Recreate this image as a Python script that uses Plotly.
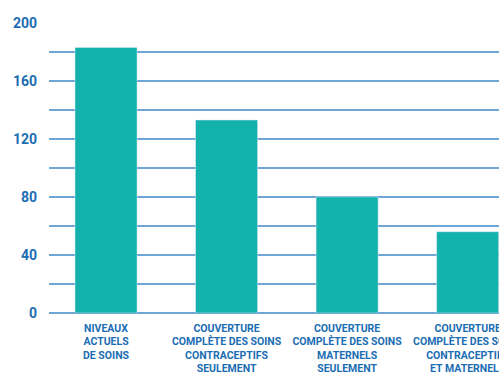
import plotly.graph_objects as go

categories = [
    "NIVEAUX<br>ACTUELS<br>DE SOINS",
    "COUVERTURE<br>COMPLÈTE DES SOINS<br>CONTRACEPTIFS<br>SEULEMENT",
    "COUVERTURE<br>COMPLÈTE DES SOINS<br>MATERNELS<br>SEULEMENT",
    "COUVERTURE<br>COMPLÈTE DES SOINS<br>CONTRACEPTIFS<br>ET MATERNELS",
]
values = [183, 133, 80, 56]
y_ticks = [0, 40, 80, 120, 160, 200]

BLUE = "#1b6db3"
GRID = "#6fa6d6"
TEAL = "#14b2ad"
FONT = "Roboto, DejaVu Sans, sans-serif"

fig = go.Figure(go.Bar(x=categories, y=values, marker_color=TEAL, width=0.515))

fig.update_layout(
    width=499, height=381,
    margin=dict(l=49, r=0, t=22, b=68),
    plot_bgcolor="white", paper_bgcolor="white",
    showlegend=False,
    font=dict(family=FONT, color=BLUE),
)
fig.update_xaxes(
    type="category",
    range=[-0.473, 3.26],
    showgrid=False, showline=False, ticks="",
    tickfont=dict(family=FONT, size=10.5, color=BLUE, weight="bold"),
    tickangle=0, automargin=False,
    ticklabelstandoff=7,
)
fig.update_yaxes(
    range=[0, 200.5],
    tickvals=y_ticks,
    ticktext=[str(v) for v in y_ticks],
    showgrid=True, gridcolor=GRID, gridwidth=1.5,
    minor=dict(dtick=20, showgrid=True, gridcolor=GRID, gridwidth=1.5),
    zeroline=True, zerolinecolor=GRID, zerolinewidth=2,
    tickfont=dict(family=FONT, size=14, color=BLUE, weight="bold"),
    ticks="", ticklabelstandoff=11, automargin=False,
)

fig.write_html(
    "out.html",
    config={"displayModeBar": False},
    post_script="document.body.style.margin='0';document.body.style.overflow='hidden';",
)
